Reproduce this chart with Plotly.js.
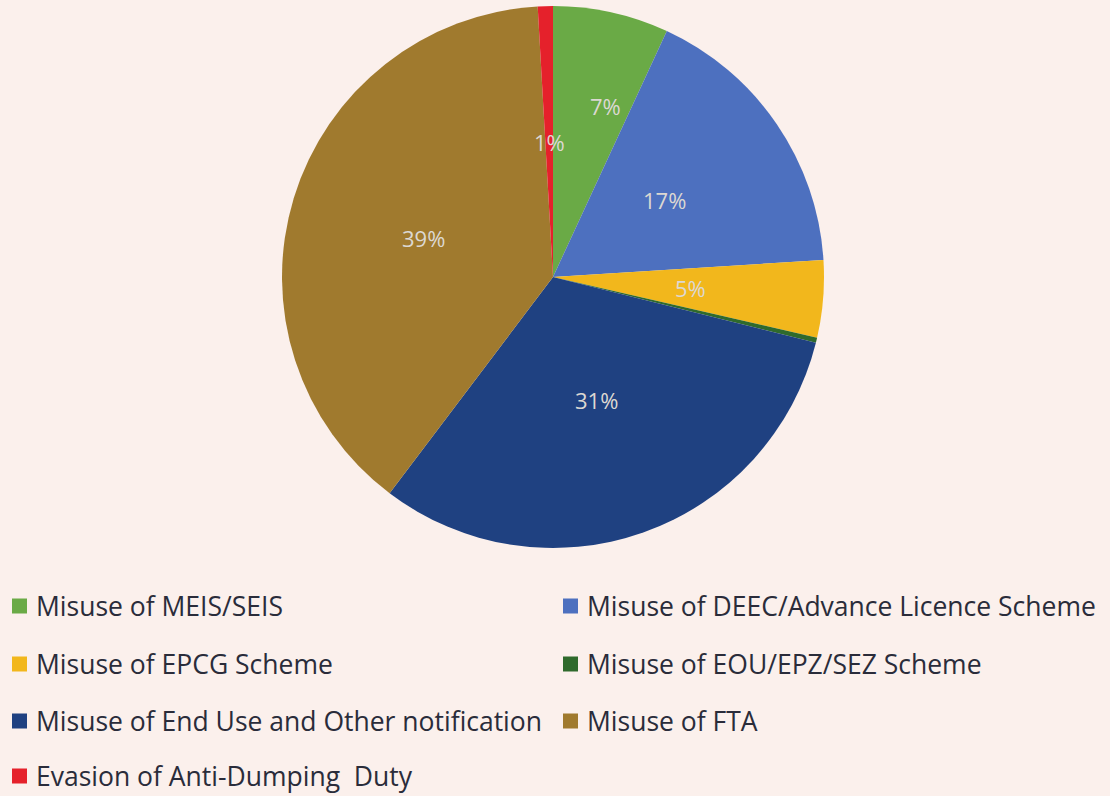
<!DOCTYPE html>
<html>
<head>
<meta charset="utf-8">
<script src="https://cdn.plot.ly/plotly-3.0.1.min.js"></script>
<style>
html,body{margin:0;padding:0;background:#fbf0ec;}
#chart{width:1110px;height:796px;}
</style>
</head>
<body>
<div id="chart"></div>
<script>
const labels = [
  "Misuse of MEIS/SEIS",
  "Misuse of DEEC/Advance Licence Scheme",
  "Misuse of EPCG Scheme",
  "Misuse of EOU/EPZ/SEZ Scheme",
  "Misuse of End Use and Other notification",
  "Misuse of FTA",
  "Evasion of Anti-Dumping  Duty"
];
const values = [6.9, 17.1, 4.6, 0.3, 31.4, 38.8, 0.9];
const pctText = ["7%", "17%", "5%", "", "31%", "39%", "1%"];
const colors = ["#6aaa46", "#4d70bf", "#f2b71c", "#2f6a2c", "#1f4181", "#a07a2e", "#e5212b"];

const W = 1110, H = 796;
const cx = 553, cy = 277, R = 271;
const trace = {
  type: "pie",
  labels: labels,
  values: values,
  textinfo: "none",
  sort: false,
  direction: "clockwise",
  rotation: 0,
  marker: {colors: colors, line: {width: 0}},
  showlegend: false,
  hoverinfo: "label+percent",
  domain: {x: [(cx - R) / W, (cx + R) / W], y: [1 - (cy + R) / H, 1 - (cy - R) / H]}
};

const annotations = [], shapes = [];
// percentage labels placed at the mid-angle of each slice (derived from values)
const total = values.reduce((a, b) => a + b, 0);
const labelRadius = [0.66, 0.5, 0.51, 0.5, 0.48, 0.5, 0.5];
const labelShift = [0.08, 0, 0, 0, 0, 0, 0]; // extra angular offset (rad)
let cum = 0;
values.forEach((v, i) => {
  const mid = (cum + v / 2) / total * 2 * Math.PI + labelShift[i];
  cum += v;
  if (!pctText[i]) return;
  const px = cx + labelRadius[i] * R * Math.sin(mid);
  const py = cy - labelRadius[i] * R * Math.cos(mid);
  annotations.push({xref: "paper", yref: "paper", x: px / W, y: 1 - py / H,
    xanchor: "center", yanchor: "middle", showarrow: false, text: pctText[i],
    font: {family: "Open Sans, sans-serif", size: 22, color: "#dcd8d2"}});
});

// custom two-column legend built from the data arrays
const colX = [12, 563], rowY = [606, 664, 721, 776], sq = 15;
labels.forEach((lab, i) => {
  const c = i % 2, r = Math.floor(i / 2);
  const x0 = colX[c], y0 = rowY[r];
  shapes.push({type: "rect", xref: "paper", yref: "paper",
    x0: x0 / W, x1: (x0 + sq) / W, y0: 1 - (y0 + sq / 2) / H, y1: 1 - (y0 - sq / 2) / H,
    fillcolor: colors[i], line: {width: 0}});
  annotations.push({xref: "paper", yref: "paper", x: (x0 + sq + 7) / W, y: 1 - y0 / H,
    xanchor: "left", yanchor: "middle", showarrow: false, text: lab,
    font: {family: "Open Sans, sans-serif", size: 26.5, color: "#2a2c3a"}});
});

Plotly.newPlot("chart", [trace], {
  width: W, height: H,
  margin: {l: 0, r: 0, t: 0, b: 0},
  paper_bgcolor: "#fbf0ec",
  plot_bgcolor: "#fbf0ec",
  showlegend: false,
  annotations: annotations,
  shapes: shapes
}, {displayModeBar: false});
</script>
</body>
</html>
